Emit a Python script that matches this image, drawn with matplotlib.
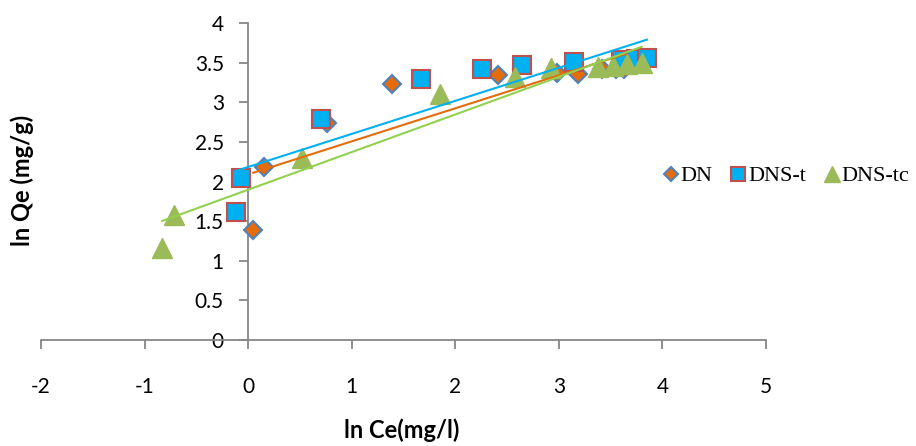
import matplotlib
matplotlib.use("Agg")
import matplotlib.pyplot as plt
import numpy as np

# data
dn_x = [0.05, 0.15, 0.76, 1.39, 2.41, 2.98, 3.18, 3.42, 3.55, 3.63]
dn_y = [1.39, 2.18, 2.74, 3.23, 3.34, 3.37, 3.36, 3.42, 3.42, 3.42]

dnst_x = [-0.12, -0.07, 0.70, 1.67, 2.26, 2.64, 3.15, 3.60, 3.74, 3.85]
dnst_y = [1.61, 2.04, 2.79, 3.29, 3.42, 3.47, 3.51, 3.53, 3.55, 3.56]

dnstc_x = [-0.83, -0.72, 0.52, 1.85, 2.58, 2.92, 3.38, 3.52, 3.66, 3.80]
dnstc_y = [1.16, 1.58, 2.30, 3.11, 3.32, 3.43, 3.45, 3.46, 3.48, 3.49]

x_ticks = [-2, -1, 0, 1, 2, 3, 4, 5]
y_ticks = [0, 0.5, 1, 1.5, 2, 2.5, 3, 3.5, 4]

plt.rcParams["font.family"] = "Lato"

fig = plt.figure(figsize=(9.16, 4.46), dpi=100)
ax = fig.add_axes([41/916, 106/446, 725/916, 317/446])

axis_gray = "#868686"

# markers
ax.plot(dn_x, dn_y, linestyle="none", marker="D", ms=9.5, mfc="#E46C0A",
        mec="#4F81BD", mew=1.5, label="DN", zorder=3)
ax.plot(dnst_x, dnst_y, linestyle="none", marker="s", ms=13, mfc="#00B0F0",
        mec="#C0504D", mew=1.5, label="DNS-t", zorder=4)
ax.plot(dnstc_x, dnstc_y, linestyle="none", marker="^", ms=14, mfc="#9BBB59",
        mec="#9BBB59", mew=1.0, label="DNS-tc", zorder=5)

# linear trend lines
for xs, ys, c in [(dn_x, dn_y, "#E46C0A"), (dnst_x, dnst_y, "#00B0F0"),
                  (dnstc_x, dnstc_y, "#92D050")]:
    k, b = np.polyfit(xs, ys, 1)
    xx = np.array([min(xs), max(xs)])
    ax.plot(xx, k * xx + b, color=c, lw=1.5, zorder=6)

ax.set_xlim(-2, 5)
ax.set_ylim(0, 4)
ax.set_xticks(x_ticks)
ax.set_yticks(y_ticks)
ax.set_xticklabels([str(t) for t in x_ticks])
ax.set_yticklabels([("%g" % t) for t in y_ticks])

ax.spines["left"].set_position(("data", 0))
ax.spines["bottom"].set_position(("data", 0))
ax.spines["top"].set_visible(False)
ax.spines["right"].set_visible(False)
for s in ("left", "bottom"):
    ax.spines[s].set_color(axis_gray)
    ax.spines[s].set_linewidth(1.3)
ax.tick_params(axis="both", direction="out", color=axis_gray, width=1.3,
               length=6.5, labelcolor="black", labelsize=15)
ax.tick_params(axis="x", pad=20)
ax.tick_params(axis="y", pad=11)
ax.patch.set_visible(False)

fig.text(22/916, 1 - 180/446, "ln Qe (mg/g)", rotation=90, ha="center",
         va="center", weight="bold", size=17)
fig.text(402/916, 1 - 430/446, "ln Ce(mg/l)", ha="center", va="center",
         weight="bold", size=17)

leg = fig.legend(loc="center left", bbox_to_anchor=(664/916, 1 - 176/446),
                 ncol=3, frameon=False, borderpad=0, borderaxespad=0,
                 handlelength=0.6, handletextpad=0.15, columnspacing=0.85,
                 markerscale=0.8,
                 prop=dict(family="Liberation Serif", size=16))

fig.savefig("out.png", dpi=100)
